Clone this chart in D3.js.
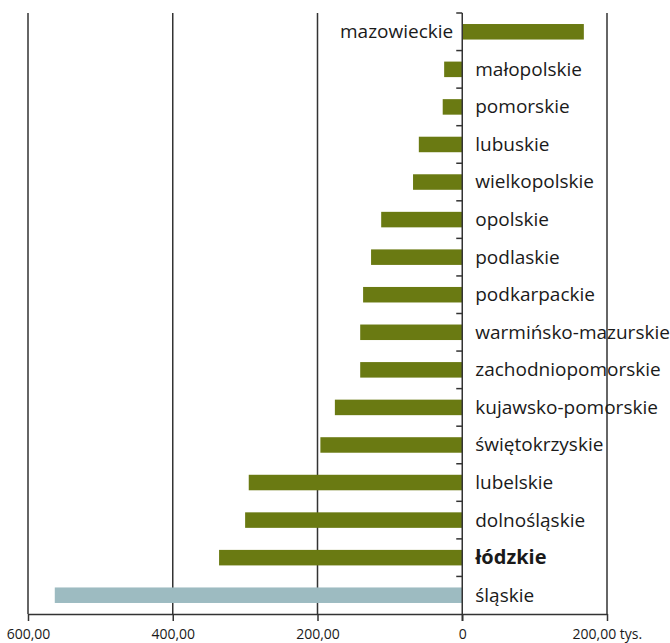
<!DOCTYPE html>
<html>
<head>
<meta charset="utf-8">
<script src="https://cdn.jsdelivr.net/npm/d3@7"></script>
<style>
  html, body { margin: 0; padding: 0; background: #fff; }
  svg { display: block; }
  text { font-family: "Open Sans", sans-serif; fill: #1a1a1a; }
</style>
</head>
<body>
<svg id="chart" width="670" height="643"></svg>
<script>
const regions = ["mazowieckie","małopolskie","pomorskie","lubuskie","wielkopolskie","opolskie","podlaskie","podkarpackie","warmińsko-mazurskie","zachodniopomorskie","kujawsko-pomorskie","świętokrzyskie","lubelskie","dolnośląskie","łódzkie","śląskie"];
const values = [168, -25, -27, -60, -68, -112, -126, -137, -141, -141, -176, -196, -295, -300, -336, -563];
const boldRegions = ["łódzkie"];
const highlightRegions = ["śląskie"];
const tickValues = [-600, -400, -200, 0, 200];
const tickLabels = ["600,00", "400,00", "200,00", "0", "200,00 tys."];

const svg = d3.select("#chart");
const plotTop = 13, plotBottom = 614;
const x = d3.scaleLinear().domain([-600, 200]).range([28, 607]);
const pad = 0.587;
const y = d3.scaleBand().domain(regions).range([plotTop, plotBottom]).paddingInner(pad).paddingOuter(pad / 2);

// gridlines
svg.append("g").selectAll("line")
  .data(tickValues.filter(v => v !== 0))
  .join("line")
  .attr("x1", d => x(d)).attr("x2", d => x(d))
  .attr("y1", plotTop).attr("y2", plotBottom)
  .attr("stroke", "#333").attr("stroke-width", 1.5);

// bars
const data = regions.map((r, i) => ({ r, v: values[i] }));
svg.append("g").selectAll("rect")
  .data(data)
  .join("rect")
  .attr("x", d => x(Math.min(0, d.v)))
  .attr("width", d => Math.abs(x(d.v) - x(0)))
  .attr("y", d => y(d.r))
  .attr("height", y.bandwidth())
  .attr("fill", d => highlightRegions.includes(d.r) ? "#9dbbc1" : "#6a7a12");

// bottom axis
const axis = d3.axisBottom(x)
  .tickValues(tickValues)
  .tickSizeInner(7)
  .tickSizeOuter(0)
  .tickFormat((d, i) => tickLabels[i]);
const gx = svg.append("g").attr("transform", `translate(0,${plotBottom})`).call(axis);
gx.select(".domain").attr("stroke", "#333").attr("stroke-width", 1.5);
gx.selectAll(".tick line").attr("stroke", "#333").attr("stroke-width", 1.5);
gx.selectAll(".tick text")
  .attr("y", 25).attr("dy", 0)
  .style("font-family", '"Open Sans", sans-serif')
  .style("font-size", "14px")
  .attr("fill", "#1a1a1a");
gx.selectAll(".tick text").filter((d, i) => i === tickValues.length - 1)
  .attr("text-anchor", "start").attr("x", -35);

// zero axis with small ticks at band boundaries
svg.append("line")
  .attr("x1", x(0)).attr("x2", x(0))
  .attr("y1", plotTop).attr("y2", plotBottom + 7)
  .attr("stroke", "#333").attr("stroke-width", 1.5);
const step = y.step();
svg.append("g").selectAll("line")
  .data(regions)
  .join("line")
  .attr("x1", x(0) - 6).attr("x2", x(0))
  .attr("y1", d => y(d) - step * pad / 2)
  .attr("y2", d => y(d) - step * pad / 2)
  .attr("stroke", "#333").attr("stroke-width", 1.5);

// category labels
svg.append("g").selectAll("text")
  .data(data)
  .join("text")
  .attr("x", d => d.v >= 0 ? x(0) - 9 : x(0) + 13)
  .attr("y", d => y(d.r) + y.bandwidth() / 2)
  .attr("dy", "0.34em")
  .attr("text-anchor", d => d.v >= 0 ? "end" : "start")
  .style("font-size", d => boldRegions.includes(d.r) ? "20px" : "19px")
  .style("font-weight", d => boldRegions.includes(d.r) ? "bold" : "normal")
  .text(d => d.r);
</script>
</body>
</html>
